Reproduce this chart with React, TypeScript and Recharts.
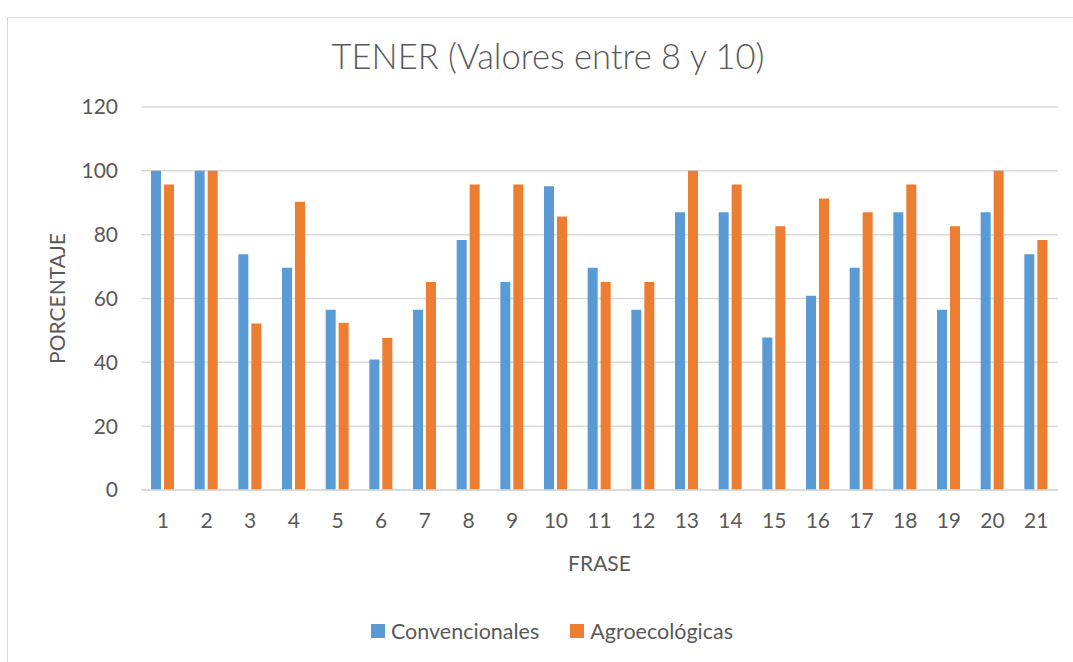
import React from "react";
import { BarChart, Bar, XAxis, YAxis, CartesianGrid, Legend } from "recharts";

const frases = ["1", "2", "3", "4", "5", "6", "7", "8", "9", "10", "11", "12", "13", "14", "15", "16", "17", "18", "19", "20", "21"];
const convencionales = [100, 100, 73.9, 69.6, 56.5, 40.9, 56.5, 78.3, 65.2, 95.2, 69.6, 56.5, 87, 87, 47.8, 60.9, 69.6, 87, 56.5, 87, 73.9];
const agroecologicas = [95.7, 100, 52.2, 90.3, 52.4, 47.6, 65.2, 95.7, 95.7, 85.7, 65.2, 65.2, 100, 95.7, 82.6, 91.3, 87, 95.7, 82.6, 100, 78.3];
const yTicks = [0, 20, 40, 60, 80, 100, 120];

const data = frases.map((f, i) => ({
  frase: f,
  Convencionales: convencionales[i],
  Agroecológicas: agroecologicas[i],
}));

const FONT = "Lato, 'Open Sans', sans-serif";
const GREY = "#595959";
const BLUE = "#5B9BD5";
const ORANGE = "#ED7D31";
const FS = 21;

function LegendBox() {
  const items = [
    { name: "Convencionales", color: BLUE },
    { name: "Agroecológicas", color: ORANGE },
  ];
  return (
    <div style={{ display: "flex", justifyContent: "center", gap: 31, fontFamily: FONT, fontSize: 21.5, color: GREY, lineHeight: "26px" }}>
      {items.map((it) => (
        <div key={it.name} style={{ display: "flex", alignItems: "center" }}>
          <span style={{ width: 14, height: 14, background: it.color, display: "inline-block", marginRight: 6 }} />
          <span>{it.name}</span>
        </div>
      ))}
    </div>
  );
}

export default function App() {
  return (
    <div style={{ position: "absolute", left: 0, top: 0, width: 1073, height: 662, overflow: "hidden", background: "#fff" }}>
      <div
        style={{
          position: "absolute",
          left: 7,
          top: 17,
          width: 1200,
          height: 800,
          border: "1px solid #D9D9D9",
        }}
      />
      <div
        style={{
          position: "absolute",
          left: 0,
          top: 35,
          width: 1096,
          textAlign: "center",
          fontFamily: FONT,
          fontWeight: 300,
          fontSize: 34.5,
          lineHeight: "42px",
          color: GREY,
        }}
      >
        TENER (Valores entre 8 y 10)
      </div>
      <div style={{ position: "absolute", left: 0, top: 0 }}>
        <BarChart
          width={1073}
          height={662}
          data={data}
          margin={{ top: 107, right: 15, left: 0, bottom: 77 }}
          barGap={3}
          barSize={10}
        >
          <CartesianGrid vertical={false} stroke="#D9D9D9" strokeWidth={1.5} />
          <XAxis
            dataKey="frase"
            height={95}
            tickSize={0}
            tickMargin={23}
            axisLine={{ stroke: "#D9D9D9", strokeWidth: 1.5 }}
            tick={{ fill: GREY, fontSize: FS, fontFamily: FONT }}
            label={{ value: "FRASE", position: "insideBottom", offset: 14, fill: GREY, fontSize: FS, fontFamily: FONT }}
          />
          <YAxis
            width={141}
            domain={[0, 120]}
            ticks={yTicks}
            tickSize={0}
            tickMargin={23}
            axisLine={false}
            tick={{ fill: GREY, fontSize: FS, fontFamily: FONT }}
            label={{ value: "PORCENTAJE", angle: -90, position: "insideLeft", offset: 58, fill: GREY, fontSize: FS, fontFamily: FONT, style: { textAnchor: "middle" } }}
          />
          <Legend
            layout="horizontal"
            verticalAlign="middle"
            align="center"
            content={() => <LegendBox />}
            wrapperStyle={{ top: 618, left: 0, width: 1104 }}
          />
          <Bar dataKey="Convencionales" fill={BLUE} isAnimationActive={false} />
          <Bar dataKey="Agroecológicas" fill={ORANGE} isAnimationActive={false} />
        </BarChart>
      </div>
    </div>
  );
}
